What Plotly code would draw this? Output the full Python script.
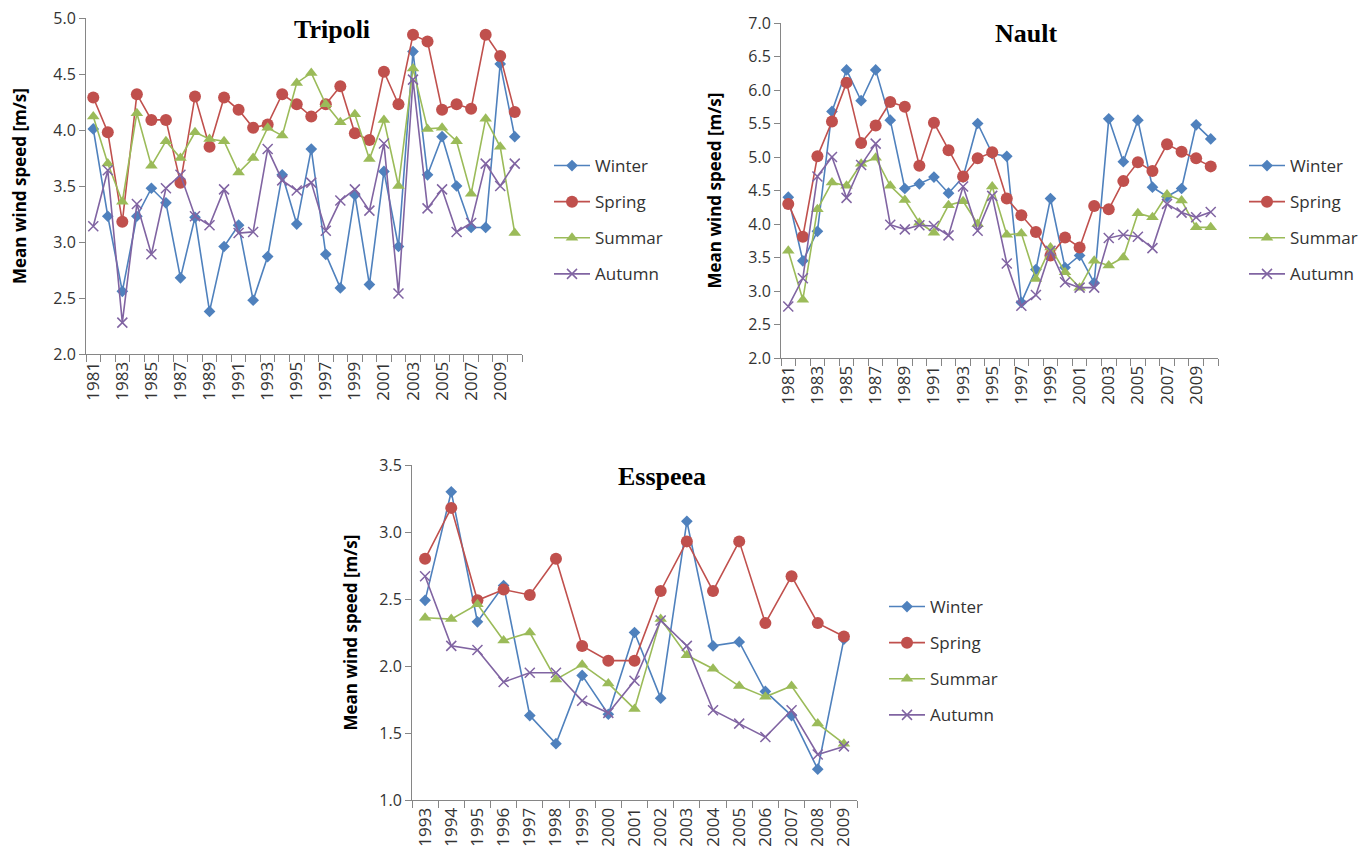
import plotly.graph_objects as go

W, H = 1367, 862
OFF = 8  # page body margin

years_a = list(range(1981, 2011))
years_e = list(range(1993, 2010))

seasons = ["Winter", "Spring", "Summar", "Autumn"]

trip_winter = [4.01, 3.23, 2.56, 3.23, 3.48, 3.35, 2.68, 3.22, 2.38, 2.96, 3.15, 2.48, 2.87, 3.60, 3.16,
               3.83, 2.89, 2.59, 3.42, 2.62, 3.63, 2.96, 4.70, 3.60, 3.94, 3.50, 3.13, 3.13, 4.59, 3.94]
trip_spring = [4.29, 3.98, 3.18, 4.32, 4.09, 4.09, 3.53, 4.30, 3.85, 4.29, 4.18, 4.02, 4.05, 4.32, 4.23,
               4.12, 4.23, 4.39, 3.97, 3.91, 4.52, 4.23, 4.85, 4.79, 4.18, 4.23, 4.19, 4.85, 4.66, 4.16]
trip_summer = [4.12, 3.70, 3.36, 4.15, 3.68, 3.90, 3.75, 3.98, 3.92, 3.90, 3.62, 3.75, 4.02, 3.95, 4.42,
               4.51, 4.23, 4.07, 4.14, 3.74, 4.09, 3.50, 4.55, 4.01, 4.02, 3.90, 3.43, 4.10, 3.85, 3.08]
trip_autumn = [3.14, 3.64, 2.28, 3.34, 2.89, 3.48, 3.60, 3.23, 3.15, 3.47, 3.08, 3.09, 3.83, 3.55, 3.46,
               3.53, 3.10, 3.37, 3.47, 3.28, 3.88, 2.54, 4.45, 3.30, 3.47, 3.09, 3.17, 3.70, 3.50, 3.70]

nault_winter = [4.40, 3.45, 3.89, 5.68, 6.30, 5.84, 6.30, 5.55, 4.53, 4.60, 4.70, 4.46, 4.70, 5.50, 5.05,
                5.01, 2.83, 3.32, 4.38, 3.35, 3.53, 3.12, 5.57, 4.93, 5.55, 4.55, 4.41, 4.53, 5.48, 5.27]
nault_spring = [4.30, 3.81, 5.01, 5.53, 6.11, 5.21, 5.47, 5.82, 5.75, 4.87, 5.51, 5.10, 4.71, 4.98, 5.07,
                4.38, 4.13, 3.88, 3.53, 3.80, 3.65, 4.27, 4.22, 4.64, 4.92, 4.79, 5.19, 5.08, 4.98, 4.86]
nault_summer = [3.60, 2.87, 4.22, 4.62, 4.57, 4.90, 4.99, 4.57, 4.36, 4.02, 3.87, 4.28, 4.34, 4.00, 4.56,
                3.84, 3.86, 3.18, 3.65, 3.28, 3.05, 3.45, 3.38, 3.50, 4.16, 4.10, 4.44, 4.35, 3.95, 3.95]
nault_autumn = [2.77, 3.19, 4.71, 5.00, 4.39, 4.88, 5.20, 3.99, 3.92, 3.98, 3.97, 3.83, 4.56, 3.90, 4.42,
                3.41, 2.78, 2.94, 3.60, 3.13, 3.05, 3.05, 3.79, 3.84, 3.81, 3.64, 4.30, 4.17, 4.10, 4.18]

essp_winter = [2.49, 3.30, 2.33, 2.60, 1.63, 1.42, 1.93, 1.64, 2.25, 1.76, 3.08, 2.15, 2.18, 1.81, 1.63, 1.23, 2.20]
essp_spring = [2.80, 3.18, 2.49, 2.57, 2.53, 2.80, 2.15, 2.04, 2.04, 2.56, 2.93, 2.56, 2.93, 2.32, 2.67, 2.32, 2.22]
essp_summer = [2.36, 2.35, 2.46, 2.19, 2.25, 1.90, 2.01, 1.87, 1.68, 2.35, 2.08, 1.98, 1.85, 1.77, 1.85, 1.57, 1.42]
essp_autumn = [2.67, 2.15, 2.12, 1.88, 1.95, 1.95, 1.74, 1.65, 1.89, 2.34, 2.15, 1.67, 1.57, 1.47, 1.67, 1.34, 1.40]

colors = {"Winter": "#4F81BD", "Spring": "#C0504D", "Summar": "#9BBB59", "Autumn": "#8064A2"}
symbols = {"Winter": "diamond", "Spring": "circle", "Summar": "triangle-up", "Autumn": "x-thin"}
msizes = {"Winter": 9, "Spring": 12, "Summar": 11, "Autumn": 10}

panels = [
    dict(name="Tripoli", years=years_a, data=[trip_winter, trip_spring, trip_summer, trip_autumn],
         box=(86, 522, 18, 354), yr=(2.0, 5.0), step=2, legend="legend", lx=549, ly=148,
         title_xy=(332, 29), ytitle_x=19),
    dict(name="Nault", years=years_a, data=[nault_winter, nault_spring, nault_summer, nault_autumn],
         box=(781, 1218, 23, 358), yr=(2.0, 7.0), step=2, legend="legend2", lx=1244, ly=148,
         title_xy=(1026, 33), ytitle_x=714),
    dict(name="Esspeea", years=years_e, data=[essp_winter, essp_spring, essp_summer, essp_autumn],
         box=(412, 857, 465, 800), yr=(1.0, 3.5), step=1, legend="legend3", lx=884, ly=589,
         title_xy=(662, 476), ytitle_x=350),
]


def px(x):
    return (x - OFF) / W


def py(y):
    return 1 - (y - OFF) / H


fig = go.Figure()
font_family = "Open Sans, Liberation Sans, sans-serif"
axis_col = "#868686"
text_col = "#333333"

layout = dict(width=W, height=H, margin=dict(l=0, r=0, t=0, b=0, autoexpand=False),
              paper_bgcolor="white", plot_bgcolor="white", annotations=[])

for i, p in enumerate(panels):
    ax = "" if i == 0 else str(i + 1)
    xref, yref = "x" + ax, "y" + ax
    for s, vals in zip(seasons, p["data"]):
        fig.add_trace(go.Scatter(
            x=p["years"], y=vals, mode="lines+markers", name=s,
            xaxis=xref, yaxis=yref, legend=p["legend"], legendgroup=p["name"] + s,
            line=dict(color=colors[s], width=1.6),
            marker=dict(symbol=symbols[s], size=msizes[s], color=colors[s],
                        line=dict(color=colors[s], width=1.5 if s == "Autumn" else 0)),
        ))
    x0, x1, y0, y1 = p["box"]
    yrs = p["years"]
    layout["xaxis" + ax] = dict(
        domain=[px(x0), px(x1)], anchor=yref, automargin=False, ticklabeloverflow="allow",
        range=[yrs[0] - 0.5, yrs[-1] + 0.5],
        tickmode="array", tickvals=yrs[::p["step"]], ticktext=[str(v) for v in yrs[::p["step"]]],
        tickangle=-90, ticks="", showgrid=False, zeroline=False,
        showline=True, linecolor=axis_col, linewidth=1,
        tickfont=dict(family=font_family, size=17, color=text_col),
        minor=dict(tickmode="array", tickvals=[v - 0.5 for v in yrs] + [yrs[-1] + 0.5],
                   ticks="outside", ticklen=7, tickcolor=axis_col, tickwidth=1, showgrid=False),
    )
    layout["yaxis" + ax] = dict(
        domain=[py(y1), py(y0)], anchor=xref, automargin=False, ticklabeloverflow="allow",
        range=list(p["yr"]), dtick=0.5, tickformat=".1f",
        ticks="outside", ticklen=6, tickcolor=axis_col, showgrid=False, zeroline=False,
        showline=True, linecolor=axis_col, linewidth=1,
        tickfont=dict(family=font_family, size=16, color=text_col),
    )
    layout["annotations"].append(dict(
        text="<b>Mean wind speed [m/s]</b>", textangle=-90, showarrow=False,
        x=px(p["ytitle_x"]), y=py((y0 + y1) / 2), xref="paper", yref="paper",
        xanchor="center", yanchor="middle",
        font=dict(family=font_family, size=17, color="black")))
    layout["annotations"].append(dict(
        text="<b>" + p["name"] + "</b>", showarrow=False,
        x=px(p["title_xy"][0]), y=py(p["title_xy"][1]), xref="paper", yref="paper",
        xanchor="center", yanchor="middle",
        font=dict(family="Liberation Serif, Times New Roman, serif", size=26, color="black")))
    layout[p["legend"]] = dict(
        x=px(p["lx"]), y=py(p["ly"]), xanchor="left", yanchor="top",
        xref="paper", yref="paper", bgcolor="rgba(0,0,0,0)",
        font=dict(family=font_family, size=17, color=text_col),
        tracegroupgap=11, itemwidth=36)

fig.update_layout(**layout)
fig.write_html("out.html")
